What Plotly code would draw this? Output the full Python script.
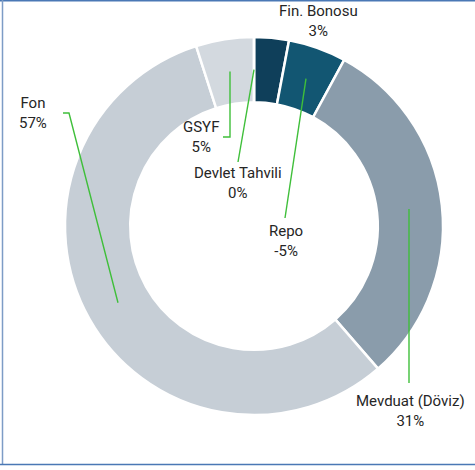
import math
import plotly.graph_objects as go

categories = ["Fin. Bonosu", "Repo", "Mevduat (Döviz)", "Fon", "GSYF", "Devlet Tahvili"]
shares = [3, -5, 31, 57, 5, 0]          # percent values shown in labels
slice_sizes = [abs(v) for v in shares]  # drawn slice sizes
colors = ["#0f3f5a", "#125672", "#8a9cab", "#c6ced6", "#d3d9df", "#a9b6c2"]

W, H = 475, 470
CX, CY, R_OUT = 254, 226, 189
HOLE = 0.655

fig = go.Figure(go.Pie(
    labels=categories,
    values=slice_sizes,
    sort=False,
    direction="clockwise",
    rotation=0,
    hole=HOLE,
    marker=dict(colors=colors, line=dict(color="white", width=2.5)),
    textinfo="none",
    hoverinfo="label+value",
    showlegend=False,
    domain=dict(x=[(CX - R_OUT) / W, (CX + R_OUT) / W],
                y=[(H - CY - R_OUT) / H, (H - CY + R_OUT) / H]),
))

# label positions (pixels) and leader-line routes
label_pos = {
    "Fin. Bonosu": (318, 21),
    "Repo": (286, 241),
    "Mevduat (Döviz)": (410, 411),
    "Fon": (33, 113),
    "GSYF": (201, 137),
    "Devlet Tahvili": (238, 183),
}

def px(x):
    return x / W

def py(y):
    return 1 - y / H

total = sum(slice_sizes)
r_mid = R_OUT * (1 + HOLE) / 2
cum = 0
anchors = {}
for name, v in zip(categories, slice_sizes):
    mid = (cum + v / 2) / total * 2 * math.pi
    ax = CX + r_mid * math.sin(mid)
    ay = CY - r_mid * math.cos(mid)
    anchors[name] = (round(ax), ay)
    cum += v

routes = {
    "Repo": lambda a: [a, (285, 218)],
    "Mevduat (Döviz)": lambda a: [a, (a[0], 383)],
    "Fon": lambda a: [a, (69, 113), (63, 113)],
    "GSYF": lambda a: [a, (a[0], 137), (223, 137)],
    "Devlet Tahvili": lambda a: [a, (238, 162)],
}

shapes = []
for name, fn in routes.items():
    pts = fn(anchors[name])
    path = "M " + " L ".join(f"{px(x):.5f},{py(y):.5f}" for x, y in pts)
    shapes.append(dict(type="path", path=path, xref="paper", yref="paper",
                       line=dict(color="#3fbf3a", width=1.4)))

# outer frame
shapes += [
    dict(type="line", xref="paper", yref="paper", x0=px(0), x1=px(480), y0=py(0.8), y1=py(0.8),
         line=dict(color="#4a78b5", width=1.5)),
    dict(type="line", xref="paper", yref="paper", x0=px(2.5), x1=px(2.5), y0=py(0), y1=py(465),
         line=dict(color="#7d9cc6", width=1.5)),
    dict(type="line", xref="paper", yref="paper", x0=px(0), x1=px(480), y0=py(464.5), y1=py(464.5),
         line=dict(color="#4a78b5", width=1.5)),
]

annotations = []
for name, val in zip(categories, shares):
    x, y = label_pos[name]
    annotations.append(dict(text=f"{name}<br>{val}%", x=px(x), y=py(y), xref="paper", yref="paper",
                            showarrow=False, align="center", xanchor="center", yanchor="middle",
                            font=dict(size=15, color="#262626")))

fig.update_layout(
    width=W, height=H,
    margin=dict(l=0, r=0, t=0, b=0),
    paper_bgcolor="white", plot_bgcolor="white",
    font=dict(family="Roboto, Liberation Sans, sans-serif"),
    shapes=shapes, annotations=annotations,
)

fig.write_html("out.html", config={"displayModeBar": False},
               post_script="document.body.style.margin='0';")
